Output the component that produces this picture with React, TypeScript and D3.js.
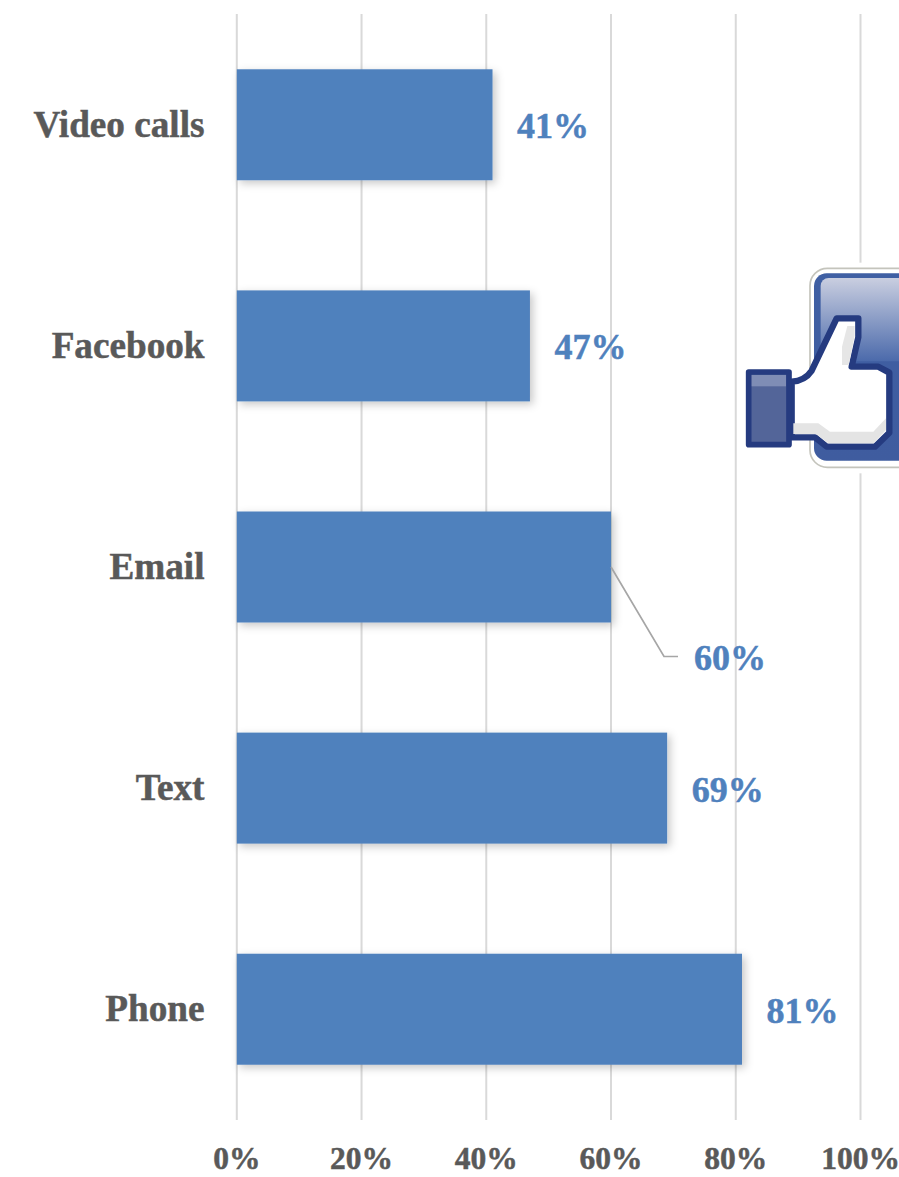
import React from "react";
import * as d3 from "d3";

// Survey categories, top to bottom, and their shares in percent
const categories = ["Video calls", "Facebook", "Email", "Text", "Phone"];
const shares = [41, 47, 60, 69, 81];
const ticks = [0, 20, 40, 60, 80, 100];

const WIDTH = 899;
const HEIGHT = 1177;
const BAR_BLUE = "#4F81BD";
const GREY_TEXT = "#595959";
const FONT = "'Liberation Serif', 'Times New Roman', serif";

// Thumbs-up badge, clipped by the right edge of the page
function LikeBadge() {
  const navy = "#253B80";
  return (
    <g transform="translate(730 250) scale(0.3333)">
      <rect x={165} y={38} width={700} height={632} fill="#fff" />
      <rect x={240} y={55} width={640} height={597} rx={52} fill="#fff" stroke="#C4C4BC" strokeWidth={5} />
      <rect x={252} y={70} width={640} height={562} rx={38} fill="url(#badgeFill)" />
      <rect x={272} y={84} width={610} height={250} rx={24} fill="url(#badgeShine)" />
      <path
        d="M185 395 Q225 392 245 362 L320 205 L385 205 L385 262 L365 350 L445 350 L478 368 L478 548 L435 590 L290 590 L255 562 L185 562 Z"
        fill="#fff"
        stroke={navy}
        strokeWidth={19}
        strokeLinejoin="round"
      />
      <path d="M190 520 L265 520 L300 545 L430 545 L468 505 L468 540 L430 580 L295 580 L258 552 L190 552 Z" fill="#E4E4E4" />
      <path d="M352 228 L374 228 L374 258 L356 345 L336 345 L336 290 Z" fill="#E6E6E6" />
      <rect x={56} y={366} width={121} height={218} fill="#536599" stroke={navy} strokeWidth={17} strokeLinejoin="round" />
      <rect x={65} y={375} width={103} height={34} fill="#7F8DB5" />
    </g>
  );
}

export default function App() {
  const x = d3.scaleLinear().domain([0, 100]).range([236.8, 860.5]);
  const y = d3
    .scaleBand<string>()
    .domain(categories)
    .range([14, 1120])
    .paddingInner(0.498)
    .paddingOuter(0.25);
  const barH = y.bandwidth();

  return (
    <svg
      width={WIDTH}
      height={HEIGHT}
      viewBox={`0 0 ${WIDTH} ${HEIGHT}`}
      style={{ position: "absolute", left: 0, top: 0, display: "block", background: "#fff" }}
    >
      <defs>
        <filter id="barShadow" x="-5%" y="-15%" width="112%" height="135%">
          <feDropShadow dx={3} dy={3} stdDeviation={4} floodColor="#000" floodOpacity={0.22} />
        </filter>
        <linearGradient id="badgeFill" x1="0" y1="0" x2="0" y2="1">
          <stop offset="0" stopColor="#3F5FA3" />
          <stop offset="1" stopColor="#3F5C9F" />
        </linearGradient>
        <linearGradient id="badgeShine" x1="0" y1="0" x2="0" y2="1">
          <stop offset="0" stopColor="#C9CEE0" />
          <stop offset="1" stopColor="#4B6AAB" />
        </linearGradient>
      </defs>

      {ticks.map((t) => (
        <line key={t} x1={x(t)} x2={x(t)} y1={14} y2={1120} stroke="#D9D9D9" strokeWidth={2} />
      ))}

      {categories.map((c, i) => (
        <rect
          key={c}
          x={x(0)}
          y={y(c)}
          width={x(shares[i]) - x(0)}
          height={barH}
          fill={BAR_BLUE}
          filter="url(#barShadow)"
        />
      ))}

      {/* Leader line for the label pulled away from its bar */}
      <path
        d={`M${x(60)} ${y("Email")! + barH / 2} L664 656.5 H678`}
        fill="none"
        stroke="#A6A6A6"
        strokeWidth={1.7}
      />

      <g fontFamily={FONT} fontWeight={700} strokeWidth={0.5} paintOrder="stroke">
        {categories.map((c) => (
          <text
            key={c}
            x={204.5}
            y={y(c)! + barH / 2}
            dy="0.33em"
            textAnchor="end"
            fontSize={37.2}
            fill={GREY_TEXT}
            stroke={GREY_TEXT}
          >
            {c}
          </text>
        ))}
        {categories.map((c, i) => {
          const moved = c === "Email";
          return (
            <text
              key={c}
              x={moved ? 694 : x(shares[i]) + 24.5}
              y={moved ? 670 : y(c)! + barH / 2 + 13.5}
              fontSize={36}
              fill={BAR_BLUE}
              stroke={BAR_BLUE}
            >
              {shares[i]}%
            </text>
          );
        })}
        {ticks.map((t) => (
          <text
            key={t}
            x={x(t)}
            y={1169}
            textAnchor="middle"
            fontSize={31.5}
            fill={GREY_TEXT}
            stroke={GREY_TEXT}
          >
            {t}%
          </text>
        ))}
      </g>

      <LikeBadge />
    </svg>
  );
}
